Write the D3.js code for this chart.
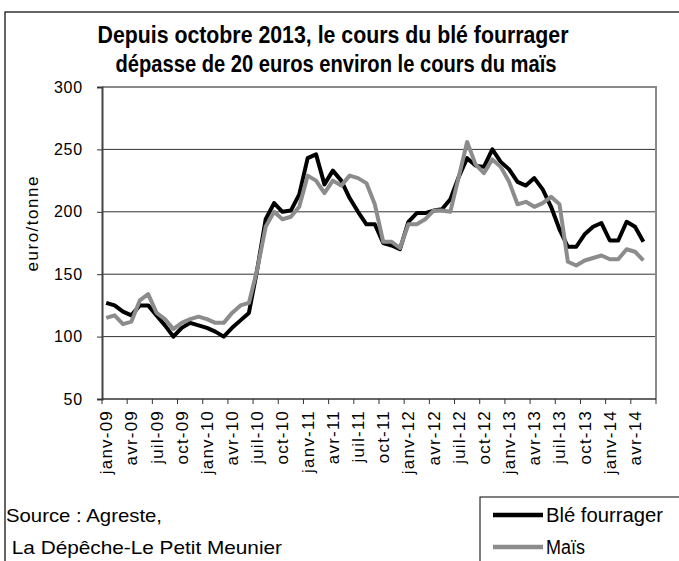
<!DOCTYPE html>
<html>
<head>
<meta charset="utf-8">
<script src="https://cdn.jsdelivr.net/npm/d3@7"></script>
<style>
  html, body { margin: 0; padding: 0; background: #fff; }
  svg { display: block; }
  text { font-family: "Liberation Sans", Arial, sans-serif; fill: #000; }
</style>
</head>
<body>
<svg id="chart" width="679" height="561"></svg>
<script>
// ---- Data ----
const title = ["Depuis octobre 2013, le cours du blé fourrager",
               "dépasse de 20 euros environ le cours du maïs"];
const monthNames = ["janv","févr","mars","avr","mai","juin","juil","août","sept","oct","nov","déc"];
const years = ["09","10","11","12","13","14"];
const categories = [];
years.forEach(yr => monthNames.forEach(m => { if (categories.length < 66) categories.push(m + "-" + yr); }));

const tickLabels = ["janv-09","avr-09","juil-09","oct-09","janv-10","avr-10","juil-10","oct-10",
  "janv-11","avr-11","juil-11","oct-11","janv-12","avr-12","juil-12","oct-12",
  "janv-13","avr-13","juil-13","oct-13","janv-14","avr-14"];

const ble = [127,125,120,117,125,125,117,109,100,107,111,109,
             107,104,100,107,113,119,154,194,207,200,201,214,
             243,246,222,233,225,211,200,190,190,175,173,170,
             192,199,199,201,202,210,228,243,237,236,250,240,
             234,224,221,227,218,204,186,172,172,182,188,191,
             177,177,192,188,176];
const mais = [115,117,110,112,129,134,119,114,106,111,114,116,
              114,111,111,119,125,127,154,188,200,194,196,204,
              229,225,215,225,221,229,227,223,206,176,176,171,
              190,190,194,201,201,200,228,256,238,231,242,236,
              224,206,208,204,207,212,206,160,157,161,163,165,
              162,162,170,168,161];
const yTicks = [50,100,150,200,250,300];
const seriesNames = ["Blé fourrager","Maïs"];
const seriesColors = ["#000000","#8c8c8c"];
const sourceLines = ["Source : Agreste,"," La Dépêche-Le Petit Meunier"];

// ---- Drawing ----
const svg = d3.select("#chart");
const plot = {left: 102, right: 656, top: 87, bottom: 399};

const x = d3.scaleBand().domain(categories).range([plot.left, plot.right]).padding(0);
const cx = c => x(c) + x.bandwidth() / 2;
const y = d3.scaleLinear().domain([50, 300]).range([plot.bottom, plot.top]);

// outer frame
svg.append("rect").attr("x", 5).attr("y", 12).attr("width", 720).attr("height", 600)
  .attr("fill", "none").attr("stroke", "#000").attr("stroke-width", 1.2);

// title
const titleLen = [471, 441], titleX = [333, 336], titleY = [43, 72];
svg.selectAll("text.title").data(title).enter().append("text")
  .attr("class", "title")
  .attr("x", (d, i) => titleX[i]).attr("y", (d, i) => titleY[i])
  .attr("text-anchor", "middle")
  .attr("font-size", 23).attr("font-weight", "bold")
  .attr("textLength", (d, i) => titleLen[i]).attr("lengthAdjust", "spacingAndGlyphs")
  .text(d => d);

// gridlines
svg.append("g").selectAll("line").data(yTicks.filter(v => v > 50 && v < 300)).enter().append("line")
  .attr("x1", plot.left).attr("x2", plot.right)
  .attr("y1", d => y(d)).attr("y2", d => y(d))
  .attr("stroke", "#333").attr("stroke-width", 1);

// top & right border (gray)
svg.append("path")
  .attr("d", `M${plot.left},${y(300)}H${plot.right}V${plot.bottom}`)
  .attr("fill", "none").attr("stroke", "#8a8a8a").attr("stroke-width", 2);

// y axis
const yAxis = d3.axisLeft(y).tickValues(yTicks).tickSize(5).tickPadding(14).tickFormat(d3.format("d"));
const gy = svg.append("g").attr("transform", `translate(${plot.left},0)`).call(yAxis);
gy.select(".domain").attr("stroke", "#444").attr("stroke-width", 2);
gy.selectAll(".tick line").attr("stroke", "#333");
gy.selectAll(".tick text").attr("font-size", 16).attr("letter-spacing", "0.8px")
  .attr("font-family", "Liberation Sans, Arial, sans-serif").attr("fill", "#000");

// y label
svg.append("text")
  .attr("transform", `translate(32,224) rotate(-90)`)
  .attr("text-anchor", "middle").attr("dy", "0.35em").attr("font-size", 17)
  .attr("textLength", 95).attr("lengthAdjust", "spacing")
  .text("euro/tonne");

// x axis
svg.append("line").attr("x1", plot.left).attr("x2", plot.right)
  .attr("y1", plot.bottom).attr("y2", plot.bottom)
  .attr("stroke", "#333").attr("stroke-width", 1.5);
const tickBounds = categories.filter((c, i) => i % 3 === 0).map(c => x(c)).concat([plot.right]);
svg.append("g").selectAll("line").data(tickBounds).enter().append("line")
  .attr("x1", d => d).attr("x2", d => d)
  .attr("y1", plot.bottom).attr("y2", plot.bottom + 5)
  .attr("stroke", "#333").attr("stroke-width", 1);
svg.append("g").selectAll("text").data(tickLabels).enter().append("text")
  .attr("transform", d => `translate(${cx(d)},${plot.bottom + 11}) rotate(-90)`)
  .attr("text-anchor", "end").attr("dy", "0.35em").attr("font-size", 17)
  .attr("letter-spacing", "1.2px")
  .text(d => d);

// lines
const line = d3.line().x((d, i) => cx(categories[i])).y(d => y(d));
[ble, mais].forEach((s, k) => {
  svg.append("path").datum(s).attr("d", line)
    .attr("fill", "none").attr("stroke", seriesColors[k]).attr("stroke-width", 4)
    .attr("stroke-linejoin", "round");
});

// source
const srcX = [6, 6], srcLen = [156, 276];
svg.selectAll("text.src").data(sourceLines).enter().append("text")
  .attr("class", "src").attr("x", (d, i) => srcX[i]).attr("y", (d, i) => 522 + i * 32)
  .attr("font-size", 19).attr("xml:space", "preserve").style("white-space", "pre")
  .attr("textLength", (d, i) => srcLen[i]).attr("lengthAdjust", "spacingAndGlyphs")
  .text(d => d);

// legend
svg.append("rect").attr("x", 480).attr("y", 497).attr("width", 300).attr("height", 200)
  .attr("fill", "#fff").attr("stroke", "#000").attr("stroke-width", 1);
const legLen = [117, 39];
seriesNames.forEach((n, k) => {
  const ly = 515 + k * 32;
  svg.append("line").attr("x1", 493).attr("x2", 543).attr("y1", ly).attr("y2", ly)
    .attr("stroke", seriesColors[k]).attr("stroke-width", 4.5);
  svg.append("text").attr("x", 546).attr("y", ly).attr("dy", "0.36em")
    .attr("font-size", 20).attr("textLength", legLen[k]).attr("lengthAdjust", "spacingAndGlyphs")
    .text(n);
});
</script>
</body>
</html>
